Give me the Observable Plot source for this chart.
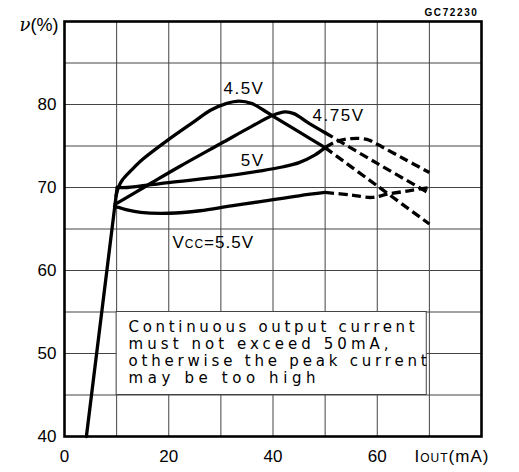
<!DOCTYPE html>
<html><head><meta charset="utf-8">
<script src="https://cdn.jsdelivr.net/npm/d3@7"></script>
<script src="https://cdn.jsdelivr.net/npm/@observablehq/plot@0.6"></script>
<style>
body{margin:0;background:#fff;}
#chart svg{display:block;}
</style>
</head><body><div id="chart"></div>
<script>
// Axis ticks and grid
const xTicks = [0, 20, 40, 60];
const yTicks = [40, 50, 60, 70, 80];
const xGrid = [10, 20, 30, 40, 50, 60, 70];
const yGrid = [45, 50, 55, 60, 65, 70, 75, 80, 85];

// Common rising trunk (IOUT mA, efficiency %)
const trunk = [[4.2, 40], [9.7, 68.0], [10.1, 70.0]];

// Vcc = 4.5 V
const v45Solid = [[9.9, 69.0], [10.4, 70.1], [11.1, 70.9], [12.7, 72.0], [15, 73.4], [20, 75.8], [25, 78.0], [28, 79.3], [31, 80.1], [33.5, 80.4], [36, 80.1], [38, 79.4], [40, 78.6], [45, 76.7], [50, 74.8]];
const v45Dashed = [[50, 74.8], [60, 70.2], [70, 65.6]];
// Vcc = 4.75 V
const v475Solid = [[9.7, 68.0], [10.3, 68.2], [16, 70.3], [22, 72.5], [30, 75.3], [36, 77.4], [40, 78.7], [42.3, 79.1], [44, 78.9], [47, 77.7], [50, 76.6]];
const v475Dashed = [[50, 76.6], [60, 72.9], [70, 69.3]];
// Vcc = 5 V
const v5Solid = [[10.1, 70.0], [12, 70.0], [20, 70.6], [30, 71.3], [37.6, 72.0], [42, 72.5], [45, 73.0], [48, 73.9], [50, 74.8]];
const v5Dashed = [[50, 74.8], [52, 75.5], [55, 75.9], [58, 75.8], [60, 75.2], [65, 73.5], [70, 71.8]];
// Vcc = 5.5 V
const v55Solid = [[9.6, 67.7], [10.4, 67.6], [12, 67.3], [14.6, 67.0], [20, 66.9], [26, 67.2], [32, 67.8], [37.6, 68.3], [45, 69.0], [50, 69.4]];
const v55Dashed = [[50, 69.4], [55, 69.1], [59, 68.8], [62, 69.2], [66, 69.6], [70, 70.0]];

const noteLines = ["Continuous output current", "must not exceed 50mA,", "otherwise the peak current", "may be too high"];
const noteWidths = [286, 260, 298, 187];

const LW = 3.3;
const solid = (data, extra = {}) => Plot.line(data, {x: d => d[0], y: d => d[1], stroke: "#000", strokeWidth: LW, curve: "catmull-rom", strokeLinejoin: "round", ...extra});
const dashed = (data) => Plot.line(data, {x: d => d[0], y: d => d[1], stroke: "#000", strokeWidth: LW, curve: "catmull-rom", strokeDasharray: "9,4.5", strokeLinecap: "butt"});

const chart = Plot.plot({
  width: 519, height: 472,
  marginLeft: 64, marginRight: 38, marginTop: 21, marginBottom: 36,
  x: {domain: [0, 80]},
  y: {domain: [40, 90]},
  style: {fontFamily: "'Liberation Sans', Arial, sans-serif", fontSize: "17px", background: "#fff", color: "#000"},
  marks: [
    Plot.gridX(xGrid, {stroke: "#444", strokeOpacity: 1, strokeWidth: 1}),
    Plot.gridY(yGrid, {stroke: "#444", strokeOpacity: 1, strokeWidth: 1}),
    Plot.rect([0], {x1: 10, x2: 69.5, y1: 45, y2: 55, fill: "#fff", stroke: "#444", strokeWidth: 1}),
    Plot.text([noteLines.join("\n")], {x: 12.3, y: 55, text: d => d, textAnchor: "start", lineAnchor: "top", lineHeight: 1.13, dy: 8, fontSize: 15, fontFamily: "'DejaVu Sans', sans-serif"}),
    solid(trunk, {curve: "linear"}),
    solid(v45Solid), dashed(v45Dashed),
    solid(v475Solid), dashed(v475Dashed),
    solid(v5Solid), dashed(v5Dashed),
    solid(v55Solid), dashed(v55Dashed),
    Plot.frame({stroke: "#000", strokeWidth: 2.6}),
    Plot.axisX(xTicks, {tickSize: 0, tickPadding: 13, fontSize: 17, label: null}),
    Plot.axisY(yTicks, {tickSize: 0, tickPadding: 8, fontSize: 17, label: null}),
    Plot.text(["4.5V"], {x: 30.5, y: 81.9, text: d => d, textAnchor: "start", fontSize: 17}),
    Plot.text(["4.75V"], {x: 47.6, y: 78.7, text: d => d, textAnchor: "start", fontSize: 17}),
    Plot.text(["5V"], {x: 33.8, y: 73.25, text: d => d, textAnchor: "start", fontSize: 17}),
    Plot.text(["VCC=5.5V"], {x: 20.7, y: 63.4, text: d => d, textAnchor: "start", fontSize: 17}),
    Plot.text(["ν(%)"], {x: 0, y: 90, text: d => d, textAnchor: "end", dx: -6, dy: 4, fontSize: 18}),
    Plot.text(["GC72230"], {x: 80, y: 90, text: d => d, textAnchor: "end", dx: -3, dy: -9, fontSize: 10, fontWeight: "bold"}),
    Plot.text(["IOUT(mA)"], {x: 80, y: 40, text: d => d, textAnchor: "start", dx: -67, dy: 20, fontSize: 17})
  ]
});
document.getElementById("chart").appendChild(chart);

// Typographic refinements: subscripts, letter spacing, stretched note lines
const root = d3.select(chart);
root.selectAll("text").each(function () {
  const t = this.textContent;
  const s = d3.select(this);
  if (t === "VCC=5.5V") {
    s.text(null).attr("letter-spacing", 1);
    s.append("tspan").text("V");
    s.append("tspan").attr("font-size", 12).text("CC");
    s.append("tspan").text("=5.5V");
  } else if (t === "IOUT(mA)") {
    s.text(null).attr("letter-spacing", 1);
    s.append("tspan").text("I");
    s.append("tspan").attr("font-size", 12).text("OUT");
    s.append("tspan").text("(mA)");
  } else if (t === "ν(%)") {
    s.text(null);
    s.append("tspan").attr("font-style", "italic").attr("font-family", "'DejaVu Serif', serif").text("ν");
    s.append("tspan").text("(%)");
  } else if (t === "4.5V" || t === "4.75V" || t === "5V") {
    s.attr("letter-spacing", 1.5);
  } else if (t === "GC72230") {
    s.attr("letter-spacing", 1.6);
  }
});
root.selectAll("tspan").each(function () {
  const i = noteLines.indexOf(this.textContent);
  if (i >= 0) d3.select(this).attr("textLength", noteWidths[i]).attr("lengthAdjust", "spacing");
});
</script>
</body></html>
